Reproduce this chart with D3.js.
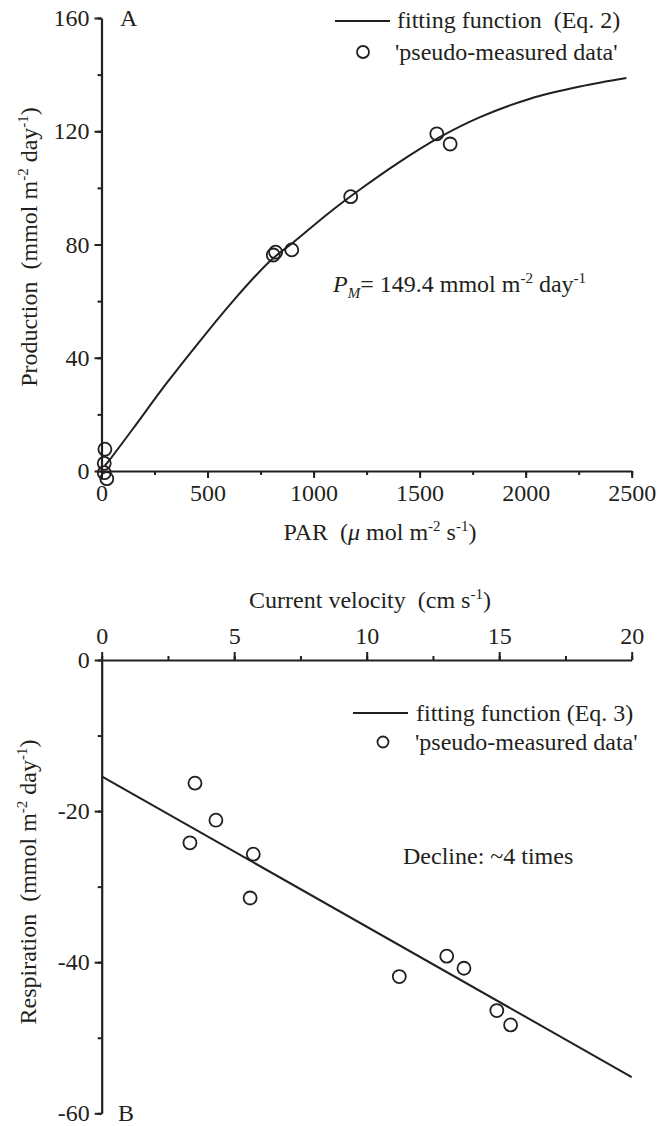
<!DOCTYPE html>
<html>
<head>
<meta charset="utf-8">
<script src="https://cdn.jsdelivr.net/npm/d3@7"></script>
<style>
  html, body { margin: 0; padding: 0; background: #fff; }
  svg { display: block; }
  text { font-family: "Liberation Serif", "DejaVu Serif", serif; fill: #231f20; white-space: pre; }
</style>
</head>
<body>
<svg id="chart" width="657" height="1126"></svg>
<script>
// Panel A: light response of production
const parMeasured  = [16, 13, 13, 25, 810, 821, 897, 1175, 1581, 1644];
const prodMeasured = [7.7, 2.7, -0.6, -2.7, 76.3, 77.3, 78.1, 96.9, 119.1, 115.5];
const parFit  = [15, 40, 150, 307, 465, 622, 795, 905, 1078, 1235, 1392, 1597, 1785, 2021, 2257, 2475];
const prodFit = [1.8, 4.1, 15.1, 31.0, 46.0, 60.2, 74.2, 80.8, 91.5, 100.3, 108.5, 118.0, 125.0, 131.5, 135.8, 138.8];
const parTicks  = [0, 500, 1000, 1500, 2000, 2500];
const prodTicks = [0, 40, 80, 120, 160];

// Panel B: respiration vs current velocity
const velMeasured  = [3.52, 4.31, 3.33, 5.72, 5.6, 11.23, 13.02, 13.67, 14.91, 15.43];
const respMeasured = [-16.3, -21.2, -24.2, -25.7, -31.5, -41.9, -39.2, -40.8, -46.4, -48.3];
const velFit  = [0, 20];
const respFit = [-15.4, -55.2];
const velTicks  = [0, 5, 10, 15, 20];
const respTicks = [-60, -40, -20, 0];

const INK = "#231f20";
const FS = 24;        // main font size
const SUP = 15;       // superscript size
const plain = d => String(d);   // hyphen minus, no thousands separator
const svg = d3.select("#chart");

// writes a run of text pieces, raising the ones flagged as superscript
function richText(g, parts) {
  let raised = 0;
  parts.forEach(p => {
    const ts = g.append("tspan").text(p.t);
    const shift = p.sup ? -9 : (p.sub ? 6 : 0);
    if (shift !== raised) { ts.attr("dy", shift - raised); raised = shift; }
    if (p.sup || p.sub) ts.attr("font-size", SUP);
    if (p.it) ts.attr("font-style", "italic");
  });
  return g;
}

function styleAxis(g) {
  g.attr("font-family", null).attr("font-size", null);
  g.select(".domain").attr("stroke", INK).attr("stroke-width", 2.2);
  g.selectAll(".tick line").attr("stroke", INK).attr("stroke-width", 2);
  g.selectAll(".tick text").attr("font-size", FS).attr("fill", INK);
}

function minorTicks(g) {
  g.attr("font-family", null);
  g.selectAll(".tick line").attr("stroke", INK).attr("stroke-width", 2);
  g.select(".domain").remove();
}

// ---------------- Panel A ----------------
const xA = d3.scaleLinear().domain([0, 2500]).range([101.5, 631.7]);
const yA = d3.scaleLinear().domain([0, 160]).range([471, 18]);

svg.append("g").attr("transform", `translate(0,${yA(0)})`)
  .call(d3.axisBottom(xA).tickValues(d3.range(0, 2501, 250)).tickSize(4).tickFormat(""))
  .call(minorTicks);
svg.append("g").attr("transform", `translate(0,${yA(0)})`)
  .call(d3.axisBottom(xA).tickValues(parTicks).tickSize(7).tickSizeOuter(0).tickPadding(6).tickFormat(plain))
  .call(styleAxis);

svg.append("g").attr("transform", `translate(${xA(0)},0)`)
  .call(d3.axisLeft(yA).tickValues(d3.range(0, 161, 20)).tickSize(4).tickFormat(""))
  .call(minorTicks);
svg.append("g").attr("transform", `translate(${xA(0)},0)`)
  .call(d3.axisLeft(yA).tickValues(prodTicks).tickSize(7).tickSizeOuter(0).tickPadding(5).tickFormat(plain))
  .call(styleAxis);

svg.append("path")
  .datum(parFit.map((x, i) => [x, prodFit[i]]))
  .attr("fill", "none").attr("stroke", INK).attr("stroke-width", 2)
  .attr("d", d3.line().x(d => xA(d[0])).y(d => yA(d[1])).curve(d3.curveCatmullRom));

svg.append("g").selectAll("circle")
  .data(parMeasured.map((x, i) => [x, prodMeasured[i]]))
  .join("circle")
  .attr("cx", d => xA(d[0])).attr("cy", d => yA(d[1])).attr("r", 6.5)
  .attr("fill", "none").attr("stroke", INK).attr("stroke-width", 1.8);

svg.append("text").attr("x", 120).attr("y", 26).attr("font-size", FS).text("A");

// legend A
svg.append("line").attr("x1", 335).attr("x2", 390).attr("y1", 21).attr("y2", 21)
  .attr("stroke", INK).attr("stroke-width", 2);
svg.append("text").attr("x", 397).attr("y", 28).attr("font-size", FS).text("fitting function  (Eq. 2)");
svg.append("circle").attr("cx", 363).attr("cy", 52).attr("r", 6)
  .attr("fill", "none").attr("stroke", INK).attr("stroke-width", 1.8);
svg.append("text").attr("x", 395).attr("y", 60).attr("font-size", FS).text("'pseudo-measured data'");

// annotation A
richText(svg.append("text").attr("x", 333).attr("y", 292).attr("font-size", FS), [
  {t: "P", it: true}, {t: "M", it: true, sub: true}, {t: "= 149.4 mmol m"}, {t: "-2", sup: true},
  {t: " day"}, {t: "-1", sup: true}
]);

// axis titles A
richText(svg.append("text").attr("x", 380).attr("y", 540).attr("font-size", FS).attr("text-anchor", "middle"), [
  {t: "PAR  ("}, {t: "μ", it: true}, {t: " mol m"}, {t: "-2", sup: true}, {t: " s"}, {t: "-1", sup: true}, {t: ")"}
]);
richText(svg.append("text").attr("transform", "translate(37,247) rotate(-90)").attr("font-size", FS).attr("text-anchor", "middle"), [
  {t: "Production  (mmol m"}, {t: "-2", sup: true}, {t: " day"}, {t: "-1", sup: true}, {t: ")"}
]);

// ---------------- Panel B ----------------
const xB = d3.scaleLinear().domain([0, 20]).range([101.7, 631.7]);
const yB = d3.scaleLinear().domain([-60, 0]).range([1113.3, 660]);

svg.append("g").attr("transform", `translate(0,${yB(0)})`)
  .call(d3.axisTop(xB).tickValues(d3.range(0, 20.1, 2.5)).tickSize(4).tickFormat(""))
  .call(minorTicks);
svg.append("g").attr("transform", `translate(0,${yB(0)})`)
  .call(d3.axisTop(xB).tickValues(velTicks).tickSize(8).tickSizeOuter(0).tickPadding(8).tickFormat(plain))
  .call(styleAxis);

svg.append("g").attr("transform", `translate(${xB(0)},0)`)
  .call(d3.axisLeft(yB).tickValues(d3.range(-60, 0.1, 10)).tickSize(4).tickFormat(""))
  .call(minorTicks);
svg.append("g").attr("transform", `translate(${xB(0)},0)`)
  .call(d3.axisLeft(yB).tickValues(respTicks).tickSize(7).tickSizeOuter(0).tickPadding(5).tickFormat(plain))
  .call(styleAxis);

svg.append("path")
  .datum(velFit.map((x, i) => [x, respFit[i]]))
  .attr("fill", "none").attr("stroke", INK).attr("stroke-width", 2)
  .attr("d", d3.line().x(d => xB(d[0])).y(d => yB(d[1])));

svg.append("g").selectAll("circle")
  .data(velMeasured.map((x, i) => [x, respMeasured[i]]))
  .join("circle")
  .attr("cx", d => xB(d[0])).attr("cy", d => yB(d[1])).attr("r", 6.5)
  .attr("fill", "none").attr("stroke", INK).attr("stroke-width", 1.8);

svg.append("text").attr("x", 118).attr("y", 1121).attr("font-size", FS).text("B");

// legend B
svg.append("line").attr("x1", 353).attr("x2", 408).attr("y1", 713).attr("y2", 713)
  .attr("stroke", INK).attr("stroke-width", 2);
svg.append("text").attr("x", 416).attr("y", 721).attr("font-size", FS).text("fitting function (Eq. 3)");
svg.append("circle").attr("cx", 383).attr("cy", 742).attr("r", 5.5)
  .attr("fill", "none").attr("stroke", INK).attr("stroke-width", 1.8);
svg.append("text").attr("x", 415).attr("y", 750).attr("font-size", FS).text("'pseudo-measured data'");

svg.append("text").attr("x", 403).attr("y", 864).attr("font-size", FS).text("Decline: ~4 times");

// axis titles B
richText(svg.append("text").attr("x", 370).attr("y", 608).attr("font-size", FS).attr("text-anchor", "middle"), [
  {t: "Current velocity  (cm s"}, {t: "-1", sup: true}, {t: ")"}
]);
richText(svg.append("text").attr("transform", "translate(36,882) rotate(-90)").attr("font-size", FS).attr("text-anchor", "middle"), [
  {t: "Respiration  (mmol m"}, {t: "-2", sup: true}, {t: " day"}, {t: "-1", sup: true}, {t: ")"}
]);
</script>
</body>
</html>
